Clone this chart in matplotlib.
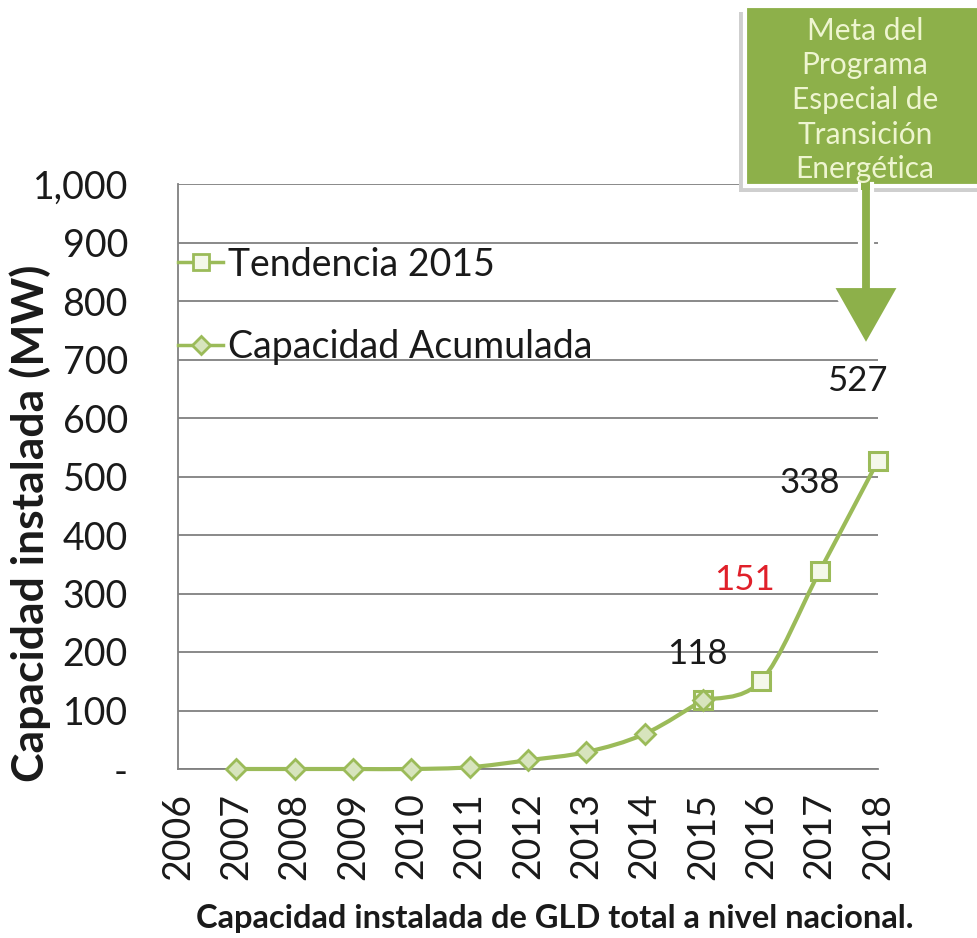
import matplotlib
matplotlib.use("Agg")
import matplotlib.pyplot as plt
from matplotlib.path import Path
from matplotlib.patches import PathPatch, Rectangle, Polygon
from matplotlib.lines import Line2D

# ---- data ----
years_acum = [2007, 2008, 2009, 2010, 2011, 2012, 2013, 2014, 2015]
capacidad_acumulada = [0, 0, 0, 0, 3, 15, 29, 60, 118]
years_tend = [2015, 2016, 2017, 2018]
tendencia_2015 = [118, 151, 338, 527]
label_values = {2015: 118, 2016: 151, 2017: 338, 2018: 527}
label_colors = {2015: "#1a1a1a", 2016: "#e0202a", 2017: "#1a1a1a", 2018: "#1a1a1a"}
x_ticks = list(range(2006, 2019))
y_ticks = [0, 100, 200, 300, 400, 500, 600, 700, 800, 900, 1000]
y_tick_labels = ["-", "100", "200", "300", "400", "500", "600", "700", "800", "900", "1,000"]

LINE = "#9bbb59"
FACE_D = "#d7e4bd"
FONT = ["Lato", "DejaVu Sans"]
plt.rcParams["font.family"] = FONT

W, H = 978, 938
fig = plt.figure(figsize=(W / 100, H / 100), dpi=100)
ax = fig.add_axes([178 / W, 1 - 769 / H, 700 / W, 585 / H])

def smooth_path(xs, ys):
    verts = [(xs[0], ys[0])]
    codes = [Path.MOVETO]
    n = len(xs)
    for i in range(n - 1):
        x0, y0 = (xs[i - 1], ys[i - 1]) if i > 0 else (xs[i], ys[i])
        x1, y1 = xs[i], ys[i]
        x2, y2 = xs[i + 1], ys[i + 1]
        x3, y3 = (xs[i + 2], ys[i + 2]) if i + 2 < n else (x2, y2)
        c1 = (x1 + (x2 - x0) / 6, y1 + (y2 - y0) / 6)
        c2 = (x2 - (x3 - x1) / 6, y2 - (y3 - y1) / 6)
        verts += [c1, c2, (x2, y2)]
        codes += [Path.CURVE4] * 3
    return Path(verts, codes)

for xs, ys in [(years_acum, capacidad_acumulada), (years_tend, tendencia_2015)]:
    ax.add_patch(PathPatch(smooth_path(xs, ys), facecolor="none", edgecolor=LINE,
                           lw=3, clip_on=False, zorder=3))

ax.plot(years_tend, tendencia_2015, ls="none", marker="s", ms=13, mfc="#f4f8ea",
        mec=LINE, mew=2.2, clip_on=False, zorder=4)
ax.plot(years_acum, capacidad_acumulada, ls="none", marker="D", ms=10, mfc=FACE_D,
        mec=LINE, mew=2, clip_on=False, zorder=5)

ax.set_xlim(2006, 2018)
ax.set_ylim(0, 1000)
ax.set_yticks(y_ticks)
ax.set_yticklabels(y_tick_labels)
ax.set_xticks(x_ticks)
ax.set_xticklabels([str(y) for y in x_ticks], rotation=90)
ax.tick_params(axis="y", length=0, pad=36, labelsize=27, labelcolor="#1a1a1a")
ax.tick_params(axis="x", length=0, pad=17, labelsize=27, labelcolor="#1a1a1a")
ax.grid(axis="y", color="#808080", lw=1.3)
ax.set_axisbelow(True)
for s in ["top", "right"]:
    ax.spines[s].set_visible(False)
ax.spines["left"].set_color("#808080")
ax.spines["bottom"].set_color("#808080")
ax.spines["left"].set_linewidth(1.3)
ax.spines["bottom"].set_linewidth(1.3)

ax.set_ylabel("Capacidad instalada (MW)", fontsize=32, fontweight="bold", color="#1a1a1a")
ax.yaxis.set_label_coords(-0.182, 0.42)

offsets = {2015: (-6, 46), 2016: (-17, 101), 2017: (-10, 88), 2018: (-21, 80)}
for yr, v in label_values.items():
    dx, dy = offsets[yr]
    ax.annotate(str(v), xy=(yr, v), xytext=(dx * 0.72, dy * 0.72), textcoords="offset points",
                ha="center", va="center", fontsize=25, color=label_colors[yr], zorder=6)

h1 = Line2D([], [], color=LINE, lw=2.5, marker="s", ms=11, mfc="#f4f8ea", mec=LINE, mew=2)
h2 = Line2D([], [], color=LINE, lw=2.5, marker="D", ms=9, mfc=FACE_D, mec=LINE, mew=2)
leg = ax.legend([h1, h2], ["Tendencia 2015", "Capacidad Acumulada"], loc="upper left",
                bbox_to_anchor=(0.0, 0.893), frameon=False, fontsize=27, handlelength=1.2,
                handletextpad=0.12, labelspacing=1.25, borderaxespad=0, borderpad=0,
                labelcolor="#1a1a1a")

def P(x, y):
    return (x / W, 1 - y / H)

# callout box with shadow
fig.patches.append(Rectangle(P(739, 192), (W - 739) / W, (192 - 12) / H, transform=fig.transFigure,
                             facecolor="#cfcfcf", edgecolor="none", zorder=10))
fig.patches.append(Rectangle(P(745, 186), (W - 745 + 10) / W, (186 - 6) / H, transform=fig.transFigure,
                             facecolor="#8db04a", edgecolor="white", lw=3, zorder=11))
arrow = [P(860, 184), P(872, 184), P(872, 286), P(900, 286), P(866, 346),
         P(832, 286), P(860, 286)]
fig.patches.append(Polygon(arrow, closed=True, transform=fig.transFigure,
                           facecolor="#8db04a", edgecolor="white", lw=3, zorder=12))
fig.patches.append(Rectangle(P(861.5, 190), 9 / W, 10 / H, transform=fig.transFigure,
                             facecolor="#8db04a", edgecolor="none", zorder=13))
fig.text(865 / W, 1 - 100 / H, "Meta del\nPrograma\nEspecial de\nTransición\nEnergética",
         ha="center", va="center", fontsize=21.5, color="#eef5d0", linespacing=1.29, zorder=14)

fig.text(555 / W, 1 - 918 / H, "Capacidad instalada de GLD total a nivel nacional.",
         ha="center", va="center", fontsize=23.5, fontweight="bold", color="#1a1a1a")

fig.savefig("out.png", dpi=100, facecolor="white")
